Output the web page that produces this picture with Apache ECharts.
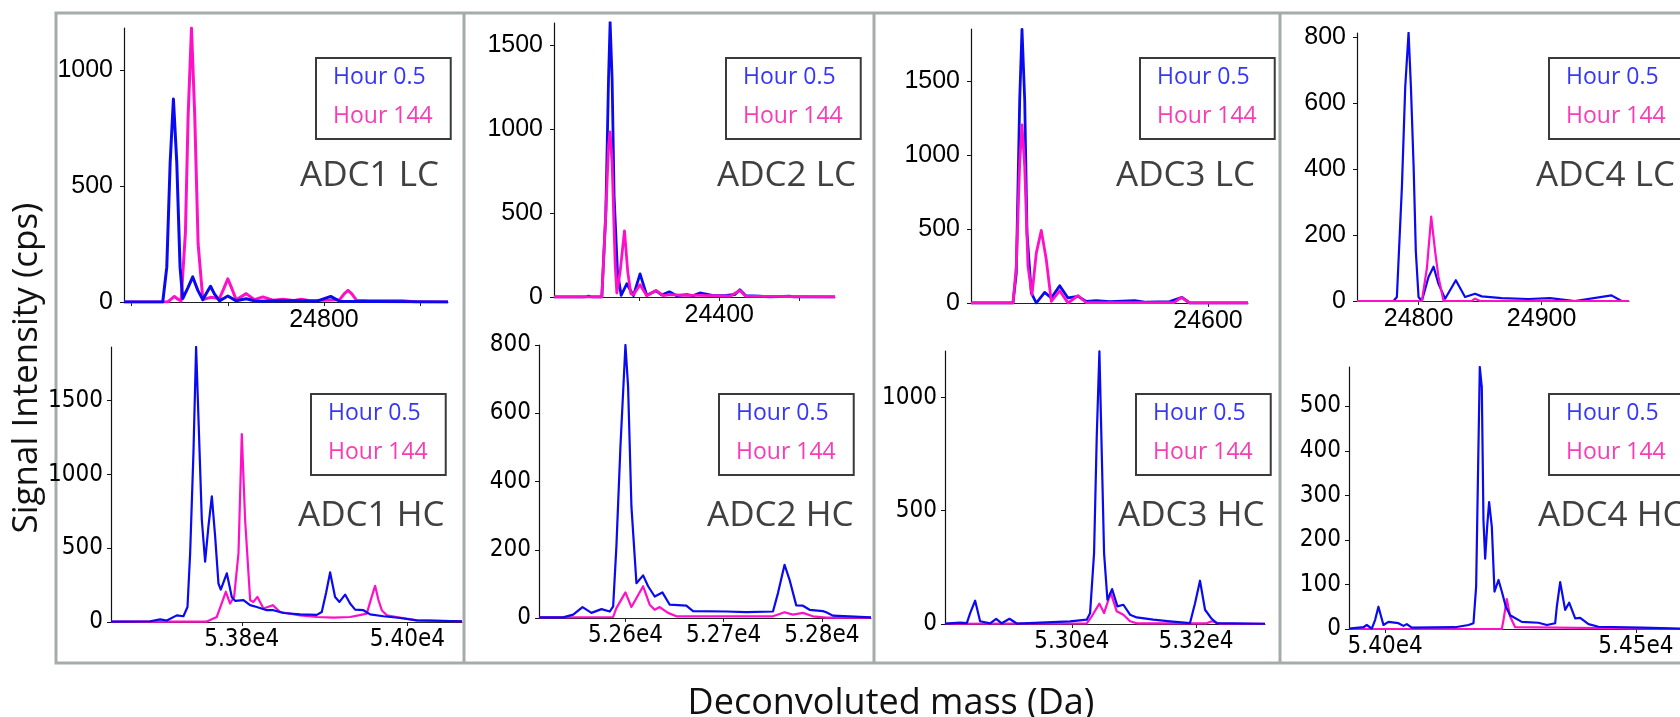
<!DOCTYPE html>
<html>
<head>
<meta charset="utf-8">
<script src="https://cdn.jsdelivr.net/npm/echarts@6/dist/echarts.min.js"></script>
<style>
  html, body { margin: 0; padding: 0; background: #fff; }
  #chart { width: 1680px; height: 717px; }
</style>
</head>
<body>
<div id="chart"></div>
<script>
// ---- spectra: [deconvoluted mass (Da), intensity (cps)] ----
const adc1LcBlue = [[24592,0],[24632.3,0],[24636.5,150],[24640,600],[24643.4,874],[24646.9,600],[24650.3,150],[24653.1,15],[24658.3,60],[24663.5,108],[24668.8,50],[24674,10],[24678,40],[24682,68],[24686,35],[24691.3,5],[24700,26],[24708.7,5],[24719.1,14],[24729.5,3],[24757.3,5],[24778.1,5],[24792,3],[24807,24],[24816.3,3],[24929,0]];
const adc1LcPink = [[24592,0],[24637.5,0],[24641,12],[24644.4,24],[24648,12],[24651.4,5],[24655.9,300],[24658.7,800],[24662.2,1180],[24665.6,800],[24669.1,250],[24674,10],[24682,20],[24691.3,15],[24696,60],[24700,100],[24704,60],[24708.7,10],[24719.1,36],[24727.8,10],[24736.5,22],[24746.9,8],[24757.3,12],[24767.7,6],[24776.4,12],[24785,5],[24816.3,10],[24821,35],[24825,50],[24829,35],[24833.7,8],[24847.6,5],[24882.3,5],[24896.2,0],[24929,0]];

const adc2LcBlue = [[24193,0],[24232,0],[24236.3,5],[24240.4,0],[24252.9,0],[24257.9,500],[24261.3,1300],[24263.3,1640],[24265.8,1300],[24268.3,600],[24272.5,150],[24277.1,10],[24284.2,79],[24292.5,8],[24300.8,138],[24309.2,10],[24320.8,37],[24327.9,12],[24337.5,31],[24346.7,8],[24359.2,14],[24367.5,8],[24375.8,24],[24392.5,8],[24409.2,10],[24419.6,15],[24425.8,43],[24433.3,8],[24450.8,5],[24463.3,0],[24488.3,5],[24492.5,0],[24545,0]];
const adc2LcPink = [[24193,0],[24252.9,0],[24257.9,500],[24261.3,900],[24263.3,984],[24265.8,800],[24269.6,200],[24271.7,24],[24275.8,150],[24281.3,394],[24285.4,150],[24289.2,20],[24292.5,14],[24300.8,73],[24309.2,8],[24320.8,39],[24330,8],[24338.3,14],[24359.2,10],[24375.8,10],[24413.3,5],[24425.8,39],[24433.3,5],[24545,0]];

const adc3LcBlue = [[24363,0],[24405,0],[24408.3,203],[24411.7,1376],[24414,1854],[24416.7,1376],[24419,474],[24423.3,68],[24428.3,0],[24436.7,72],[24443.3,34],[24451.7,117],[24460,34],[24470,45],[24478.3,11],[24488.3,16],[24501.7,9],[24526.7,16],[24538.3,5],[24561.7,9],[24574,38],[24581.7,0],[24640,0]];
const adc3LcPink = [[24363,0],[24405,0],[24408.3,250],[24411.7,950],[24414,1207],[24416.7,925],[24420,248],[24424,56],[24428.3,338],[24433.3,492],[24438.3,293],[24443.3,11],[24451.7,83],[24460,0],[24470,50],[24478.3,2],[24566,2],[24573.3,38],[24581.7,0],[24640,0]];

const adc4LcBlue = [[24750,0],[24779.7,0],[24782.4,12],[24786.5,347],[24789.2,650],[24791.9,814],[24793.8,650],[24796,408],[24797.8,150],[24800,12],[24802.7,0],[24808.1,73],[24812.2,104],[24816.2,52],[24821.6,7],[24830.3,63],[24837.8,12],[24845.9,22],[24851.4,14],[24867.6,9],[24889.2,6],[24906.8,9],[24927,0],[24956.8,17],[24964.9,0],[24971,0]];
const adc4LcPink = [[24750,0],[24802.7,0],[24806.8,100],[24810.3,256],[24813.5,150],[24816.2,73],[24820.3,0],[24843.2,0],[24845.9,7],[24850,0],[24971,0]];

const adc1HcBlue = [[53642,3],[53689.3,5],[53701.4,18],[53709.4,10],[53721.5,45],[53729.5,39],[53734.4,102],[53737.6,466],[53741.6,1148],[53744.8,1864],[53747.7,1375],[53751.7,693],[53755.7,409],[53759.7,648],[53763.8,852],[53767.8,580],[53771.8,261],[53774.6,220],[53781.9,330],[53787.9,170],[53792,143],[53802,148],[53810,114],[53818.1,102],[53830.2,80],[53838.2,80],[53850.3,61],[53870.5,52],[53890.6,48],[53896.6,68],[53901.9,200],[53906.7,336],[53912.7,170],[53918,136],[53924.8,186],[53930.8,125],[53936.9,84],[53946.9,80],[53955,52],[53971.1,39],[53991.2,27],[54011.4,11],[54066,5]];
const adc1HcPink = [[53642,3],[53757.7,3],[53769.8,34],[53780.7,205],[53785.9,125],[53790.7,170],[53796,466],[53800,1273],[53804,693],[53810.1,148],[53814.1,136],[53818.9,170],[53826.2,91],[53837.4,114],[53846.3,68],[53870.5,45],[53890.6,34],[53910.7,30],[53930.8,34],[53940.9,45],[53951,57],[53955.8,150],[53961,245],[53965,150],[53969.1,80],[53975.1,45],[53987.2,34],[54011.4,11],[54066,5]];

const adc2HcBlue = [[52512,2],[52536.6,2],[52546.8,10],[52556.3,32],[52565.4,15],[52575.6,26],[52584.1,19],[52587.5,34],[52590.8,210],[52594.9,502],[52600,800],[52602.7,678],[52606.1,327],[52611.2,102],[52618,125],[52623.1,93],[52629.8,63],[52637.6,75],[52645.1,39],[52662,36],[52668.8,20],[52702.7,19],[52723.1,17],[52750.2,19],[52755.3,73],[52762,156],[52767.1,112],[52773.9,37],[52780.7,36],[52787.5,24],[52801,20],[52804.4,17],[52811.2,7],[52850,2]];
const adc2HcPink = [[52512,2],[52587.5,3],[52590.8,29],[52600,75],[52606.1,32],[52618,93],[52624.7,39],[52629.8,24],[52634.9,32],[52643.4,15],[52651.9,5],[52750.2,5],[52762,17],[52770.5,10],[52780.7,15],[52790.8,5],[52804.4,1],[52850,1]];

const adc3HcBlue = [[52796,2],[52820.4,6],[52831.1,4],[52836.5,48],[52844.5,103],[52852.5,12],[52868.6,3],[52878.3,23],[52887.4,3],[52899.7,23],[52911.5,2],[52997.3,12],[53024.1,19],[53029.5,48],[53035.9,313],[53040.2,826],[53044.5,1204],[53048.3,753],[53052,313],[53057.4,107],[53064.9,154],[53073.5,78],[53083.1,85],[53093.8,41],[53104.6,29],[53131.4,19],[53158.2,12],[53190.3,4],[53198.4,92],[53206.4,191],[53214.5,63],[53225.2,23],[53233.2,4],[53311,1]];
const adc3HcPink = [[52796,1],[53024.1,3],[53032.2,34],[53044.5,90],[53052,48],[53062.7,137],[53072.4,56],[53083.1,41],[53093.8,12],[53104.6,3],[53217.2,3],[53225.2,12],[53238.6,1],[53311,1]];

const adc4HcBlue = [[53928,1],[53956.8,4],[53963.4,9],[53973.4,1],[53980,20],[53986.7,50],[53996.7,9],[54006.6,16],[54026.6,13],[54036.6,7],[54043.2,11],[54053.2,3],[54139.6,4],[54166.2,9],[54176.2,13],[54181.5,95],[54184.8,319],[54188.8,588],[54192.8,543],[54196.1,244],[54199.5,158],[54203.5,230],[54207.4,285],[54212.8,229],[54218.1,84],[54226.1,110],[54232.7,84],[54240.7,50],[54249.3,31],[54272.6,16],[54305.9,14],[54322.5,9],[54339.1,13],[54342.4,50],[54349.1,105],[54359,43],[54367,59],[54379,24],[54389,25],[54405.6,11],[54425.5,5],[54512,3],[54588,1]];
const adc4HcPink = [[53928,0],[54232.7,0],[54236,20],[54242.7,67],[54249.3,28],[54259.3,4],[54588,0]];

// ---- tick values ----
const adc1LcYTicks = [0, 500, 1000];
const adc1LcXTicks = [24600, 24700, 24800, 24900];
const adc1LcXLabels = [24800];
const adc2LcYTicks = [0, 500, 1000, 1500];
const adc2LcXTicks = [24300, 24400, 24500];
const adc2LcXLabels = [24400];
const adc3LcYTicks = [0, 500, 1000, 1500];
const adc3LcXTicks = [24600];
const adc3LcXLabels = [24600];
const adc4LcYTicks = [0, 200, 400, 600, 800];
const adc4LcXTicks = [24800, 24900];
const adc1HcYTicks = [0, 500, 1000, 1500];
const adc1HcXTicks = [53800, 54000];
const adc2HcYTicks = [0, 200, 400, 600, 800];
const adc2HcXTicks = [52600, 52700, 52800];
const adc3HcYTicks = [0, 500, 1000];
const adc3HcXTicks = [53000, 53200];
const adc4HcYTicks = [0, 100, 200, 300, 400, 500];
const adc4HcXTicks = [54000, 54500];

const seriesNames = ['Hour 0.5', 'Hour 144'];

const BLUE = '#0a0af0';
const PINK = '#ff10c6';
const FRAME = '#a4adaa';
const SANS = "'Open Sans', 'Noto Sans', sans-serif";

const panels = [
  { label: 'ADC1 LC', blue: adc1LcBlue, pink: adc1LcPink, blueOnTop: true, lc: true, lw: 3,
    grid: [124, 28, 324, 274], x: [24592, 24929], yMax: 1180,
    yTicks: adc1LcYTicks, xTicks: adc1LcXTicks, xLabels: adc1LcXLabels, legend: [316, 58], name: [300, 159] },
  { label: 'ADC2 LC', blue: adc2LcBlue, pink: adc2LcPink, blueOnTop: false, lc: true, lw: 2.8,
    grid: [554, 23, 281, 274], x: [24193, 24545], yMax: 1633,
    yTicks: adc2LcYTicks, xTicks: adc2LcXTicks, xLabels: adc2LcXLabels, legend: [726, 58], name: [717, 159] },
  { label: 'ADC3 LC', blue: adc3LcBlue, pink: adc3LcPink, blueOnTop: false, lc: true, lw: 2.8,
    grid: [971, 29, 277, 274], x: [24363, 24640], yMax: 1856,
    yTicks: adc3LcYTicks, xTicks: adc3LcXTicks, xLabels: adc3LcXLabels, legend: [1140, 58], name: [1116, 159] },
  { label: 'ADC4 LC', blue: adc4LcBlue, pink: adc4LcPink, blueOnTop: false, lc: true, lw: 2.2,
    grid: [1357, 33, 272, 268], x: [24750, 24971], yMax: 813,
    yTicks: adc4LcYTicks, xTicks: adc4LcXTicks, xLabels: adc4LcXTicks, legend: [1549, 58], name: [1536, 159] },
  { label: 'ADC1 HC', blue: adc1HcBlue, pink: adc1HcPink, blueOnTop: true, lc: false, lw: 2.2,
    grid: [111, 347, 351, 275], x: [53642, 54066], yMax: 1864,
    yTicks: adc1HcYTicks, xTicks: adc1HcXTicks, xLabels: adc1HcXTicks, legend: [311, 394], name: [298, 499] },
  { label: 'ADC2 HC', blue: adc2HcBlue, pink: adc2HcPink, blueOnTop: true, lc: false, lw: 2.2,
    grid: [539, 345, 332, 273], x: [52512, 52850], yMax: 800,
    yTicks: adc2HcYTicks, xTicks: adc2HcXTicks, xLabels: adc2HcXTicks, legend: [719, 394], name: [707, 499] },
  { label: 'ADC3 HC', blue: adc3HcBlue, pink: adc3HcPink, blueOnTop: true, lc: false, lw: 2.2,
    grid: [945, 351, 320, 273], x: [52796, 53311], yMax: 1205,
    yTicks: adc3HcYTicks, xTicks: adc3HcXTicks, xLabels: adc3HcXTicks, legend: [1136, 394], name: [1118, 499] },
  { label: 'ADC4 HC', blue: adc4HcBlue, pink: adc4HcPink, blueOnTop: true, lc: false, lw: 2.2,
    grid: [1349, 367, 331, 262], x: [53928, 54588], yMax: 588,
    yTicks: adc4HcYTicks, xTicks: adc4HcXTicks, xLabels: adc4HcXTicks, legend: [1549, 394], name: [1538, 499] }
];

const lcFont = { fontFamily: "'Liberation Sans', Arial, sans-serif", fontSize: 25, color: '#000' };
const hcFont = { fontFamily: "'Liberation Sans Narrow', 'Arial Narrow', 'DejaVu Sans Condensed', sans-serif", fontSize: 24, color: '#000' };

const grid = [], xAxis = [], yAxis = [], series = [], title = [], legend = [];

panels.forEach((p, i) => {
  grid.push({ left: p.grid[0], top: p.grid[1], width: p.grid[2], height: p.grid[3], containLabel: false });
  const font = p.lc ? lcFont : hcFont;
  xAxis.push({
    type: 'value', gridIndex: i, min: p.x[0], max: p.x[1], position: 'bottom',
    axisLine: { show: true, onZero: false, lineStyle: { color: '#222', width: 1 } },
    axisTick: { show: true, length: 4, customValues: p.xTicks, lineStyle: { color: '#222' } },
    axisLabel: {
      ...font, margin: 6, customValues: p.xLabels,
      formatter: (v) => p.lc ? String(v) : (v / 1e4).toFixed(2) + 'e4'
    },
    splitLine: { show: false }
  });
  yAxis.push({
    type: 'value', gridIndex: i, min: 0, max: p.yMax,
    axisLine: { show: true, lineStyle: { color: '#111', width: 1.2 } },
    axisTick: { show: true, length: 4, customValues: p.yTicks, lineStyle: { color: '#111' } },
    axisLabel: { ...font, margin: p.lc ? 11 : 8, customValues: p.yTicks, formatter: (v) => String(v) },
    splitLine: { show: false }
  });
  const blueS = {
    name: seriesNames[0], type: 'line', xAxisIndex: i, yAxisIndex: i, data: p.blue,
    showSymbol: false, symbol: 'none', smooth: false,
    lineStyle: { color: BLUE, width: p.lw, join: 'round' }, itemStyle: { color: BLUE }, clip: true
  };
  const pinkS = {
    name: seriesNames[1], type: 'line', xAxisIndex: i, yAxisIndex: i, data: p.pink,
    showSymbol: false, symbol: 'none', smooth: false,
    lineStyle: { color: PINK, width: p.lw, join: 'round' }, itemStyle: { color: PINK }, clip: true
  };
  if (p.blueOnTop) series.push(pinkS, blueS); else series.push(blueS, pinkS);

  title.push({
    text: p.label, left: p.name[0], top: p.name[1], padding: 0,
    textStyle: { fontFamily: SANS, fontSize: 35, fontWeight: 'normal', color: '#404040' }
  });
  legend.push({
    left: p.legend[0], top: p.legend[1], orient: 'vertical', icon: 'none',
    itemWidth: 0, itemHeight: 22, itemGap: 16, padding: [8, 18, 11, 12],
    backgroundColor: '#fff', borderColor: '#3a3a3a', borderWidth: 2, borderRadius: 0,
    selectedMode: false,
    textStyle: { fontFamily: SANS, fontSize: 23 },
    data: [
      { name: seriesNames[0], textStyle: { color: '#3636f6' } },
      { name: seriesNames[1], textStyle: { color: '#f83cb4' } }
    ]
  });
});

const graphic = [
  { type: 'rect', silent: true, z: -1, shape: { x: 56, y: 13, width: 1700, height: 650 },
    style: { fill: 'none', stroke: FRAME, lineWidth: 3 } },
  { type: 'line', silent: true, z: -1, shape: { x1: 464, y1: 13, x2: 464, y2: 663 }, style: { stroke: FRAME, lineWidth: 3 } },
  { type: 'line', silent: true, z: -1, shape: { x1: 874, y1: 13, x2: 874, y2: 663 }, style: { stroke: FRAME, lineWidth: 3 } },
  { type: 'line', silent: true, z: -1, shape: { x1: 1280, y1: 13, x2: 1280, y2: 663 }, style: { stroke: FRAME, lineWidth: 3 } },
  { type: 'text', silent: true, x: 27, y: 368, rotation: Math.PI / 2,
    style: { text: 'Signal Intensity (cps)', fontFamily: SANS, fontSize: 35,
      fill: '#111', align: 'center', verticalAlign: 'middle' } },
  { type: 'text', silent: true, x: 891, y: 704,
    style: { text: 'Deconvoluted mass (Da)', fontFamily: SANS, fontSize: 36,
      fill: '#111', align: 'center', verticalAlign: 'middle' } }
];

const myChart = echarts.init(document.getElementById('chart'), null, { renderer: 'canvas' });
myChart.setOption({
  animation: false,
  backgroundColor: '#fff',
  title, legend, grid, xAxis, yAxis, series, graphic
});
</script>
</body>
</html>
